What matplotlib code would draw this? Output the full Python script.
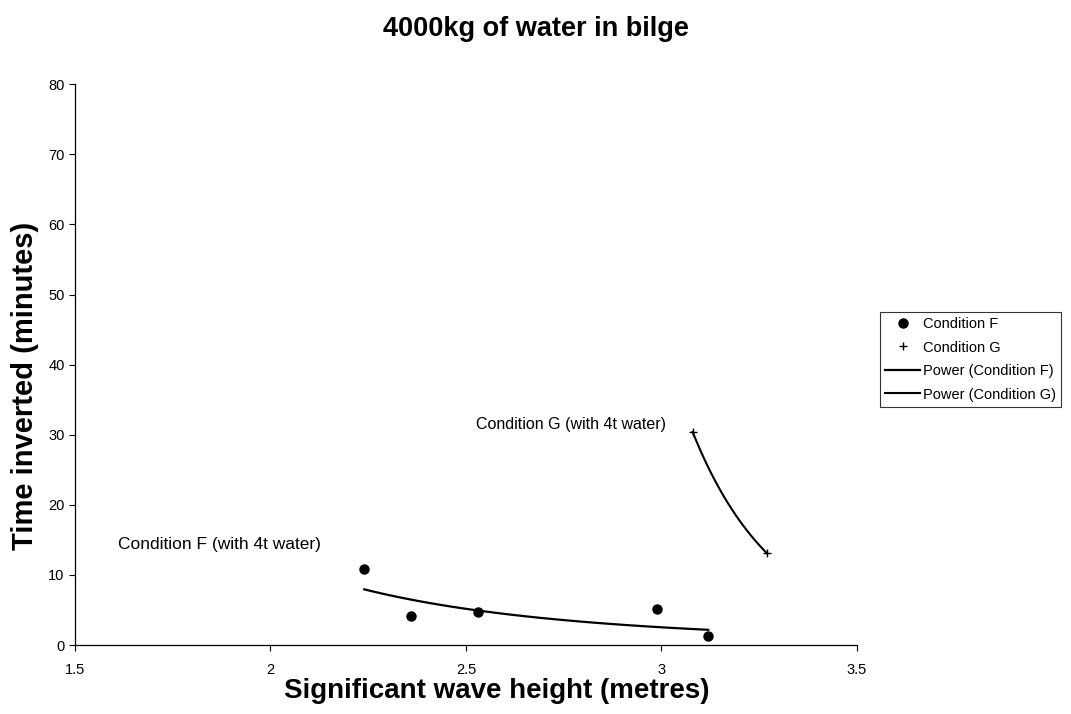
import numpy as np
import matplotlib
matplotlib.use("Agg")
import matplotlib.pyplot as plt

plt.rcParams['font.family'] = ['Liberation Sans', 'DejaVu Sans']

# data
wave_f = [2.24, 2.36, 2.53, 2.99, 3.12]
time_f = [10.8, 4.2, 4.7, 5.1, 1.3]
wave_g = [3.08, 3.27]
time_g = [30.4, 13.1]

xticks = [1.5, 2, 2.5, 3, 3.5]
xtick_labels = ["1.5", "2", "2.5", "3", "3.5"]
yticks = [0, 10, 20, 30, 40, 50, 60, 70, 80]


def power_fit(x, y):
    # least squares on log-log, like an Excel power trendline
    b, lna = np.polyfit(np.log(x), np.log(y), 1)
    xs = np.linspace(min(x), max(x), 100)
    return xs, np.exp(lna) * xs ** b


fig = plt.figure(figsize=(10.71, 7.14), dpi=100)
ax = fig.add_axes([0.070, 0.0966, 0.730, 0.7854])

ax.plot(wave_f, time_f, "o", color="k", ms=6.5, ls="none", label="Condition F")
ax.plot(wave_g, time_g, "+", color="k", ms=6, mew=1.0, ls="none", label="Condition G")

xf, yf = power_fit(wave_f, time_f)
ax.plot(xf, yf, color="k", lw=1.6, label="Power (Condition F)")
xg, yg = power_fit(wave_g, time_g)
ax.plot(xg, yg, color="k", lw=1.5, label="Power (Condition G)")

ax.text(1.87, 14.3, "Condition F (with 4t water)", fontsize=12.5,
        ha="center", va="center")
ax.text(2.77, 31.4, "Condition G (with 4t water)", fontsize=11.5,
        ha="center", va="center")

ax.set_xlim(1.5, 3.5)
ax.set_ylim(0, 80)
ax.set_xticks(xticks)
ax.set_xticklabels(xtick_labels)
ax.set_yticks(yticks)
ax.tick_params(labelsize=10.5, length=4, width=0.8, direction="out")
ax.tick_params(axis="x", pad=9)
ax.spines["top"].set_visible(False)
ax.spines["right"].set_visible(False)
ax.spines["left"].set_linewidth(0.9)
ax.spines["bottom"].set_linewidth(0.9)

ax.set_xlabel("Significant wave height (metres)", fontsize=20,
              fontweight="bold")
ax.xaxis.set_label_coords(0.54, -0.058)
ax.set_ylabel("Time inverted (minutes)", fontsize=21, fontweight="bold")
ax.yaxis.set_label_coords(-0.046, 0.463)
fig.suptitle("4000kg of water in bilge", fontsize=19.5, fontweight="bold",
             x=0.5, y=0.978)

leg = fig.legend(loc="upper left", bbox_to_anchor=(0.822, 0.563),
                 fontsize=10.5, frameon=True, fancybox=False,
                 handlelength=2.4, handletextpad=0.2, labelspacing=0.65,
                 borderaxespad=0, borderpad=0.35)
leg.get_frame().set_edgecolor("k")
leg.get_frame().set_linewidth(0.8)

fig.savefig("out.png", dpi=100)
